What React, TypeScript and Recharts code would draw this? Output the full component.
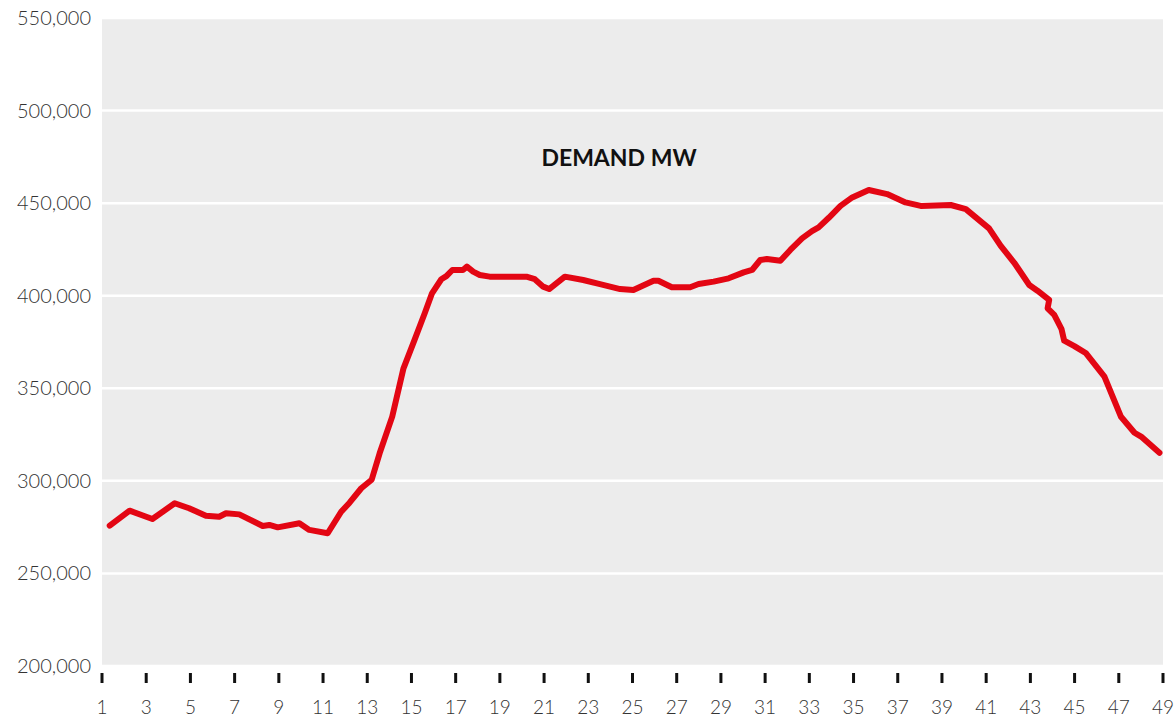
import { LineChart, Line, XAxis, YAxis, CartesianGrid } from 'recharts';

// settlement period (x) and demand in MW
const periods = [
    1.35, 2.25, 3.28, 4.29, 4.94, 5.7, 6.3, 6.61, 7.21, 8.27, 8.57, 8.95, 9.93, 10.38, 11.21,
    11.82, 12.2, 12.73, 13.2, 13.56, 14.13, 14.64, 15.14, 15.6, 15.93, 16.35, 16.58, 16.85,
    17.33, 17.51, 17.79, 18.09, 18.54, 20.2, 20.58, 20.96, 21.23, 21.94, 22.77, 23.53, 24.44,
    25.04, 25.95, 26.17, 26.78, 27.61, 27.99, 28.67, 29.35, 30.03, 30.41, 30.78, 31.08, 31.69,
    32.14, 32.67, 33.12, 33.42, 33.88, 34.41, 34.94, 35.69, 36.52, 37.35, 38.04, 39.4, 40.08,
    41.13, 41.66, 42.27, 42.95, 43.32, 43.85, 43.78, 44.08, 44.41, 44.53, 44.99, 45.52, 46.35,
    47.1, 47.71, 48.01, 48.84,
];
const demandMW = [
    275800, 283900, 279400, 287900, 285200, 281200, 280600, 282500, 281900, 275600, 276200,
    274900, 277100, 273500, 271700, 283300, 288200, 296000, 300600, 314900, 334700, 360800,
    376100, 390500, 401300, 408900, 410600, 413900, 413900, 415700, 413000, 411200, 410300,
    410300, 408900, 404900, 403600, 410300, 408500, 406300, 403600, 403100, 408100, 408100,
    404600, 404600, 406300, 407600, 409400, 412600, 413900, 419300, 419800, 418900, 424700,
    431000, 434900, 436900, 442100, 448500, 453100, 457100, 454900, 450400, 448500, 449000,
    446800, 436400, 426900, 417800, 405800, 402700, 397700, 393200, 389600, 381900, 375700,
    372800, 368900, 356300, 334600, 326000, 323900, 315200,
];
const xTicks = [1, 3, 5, 7, 9, 11, 13, 15, 17, 19, 21, 23, 25, 27, 29, 31, 33, 35, 37, 39, 41, 43, 45, 47, 49];
const yTicks = [200000, 250000, 300000, 350000, 400000, 450000, 500000, 550000];

const data = periods.map((p, i) => ({ period: p, demand: demandMW[i] }));

const labelFont = 'Lato, "Open Sans", sans-serif';

const XTick = ({ x, y, payload }: any) => (
    <g>
        <line x1={x} x2={x} y1={y + 7} y2={y + 17} stroke="#111" strokeWidth={3} />
        <text x={x} y={y + 48} textAnchor="middle" fill="#333" fontSize={19} fontWeight={300} fontFamily={labelFont}>
            {payload.value}
        </text>
    </g>
);

const YTick = ({ y, payload }: any) => (
    <text x={91} y={y + 7} textAnchor="end" fill="#333" fontSize={20} fontWeight={300} fontFamily={labelFont}>
        {payload.value.toLocaleString('en-US')}
    </text>
);

export default function App() {
    return (
        <div style={{ position: 'absolute', left: 0, top: 0, width: 1176, height: 720, background: '#fff' }}>
            <LineChart width={1176} height={720} data={data} margin={{ top: 18, right: 13, bottom: 0, left: 0 }}>
                <CartesianGrid vertical={false} fill="#ececec" stroke="#fff" strokeWidth={2.5} />
                <XAxis
                    dataKey="period"
                    type="number"
                    domain={[1, 49]}
                    ticks={xTicks}
                    interval={0}
                    height={54}
                    axisLine={false}
                    tickLine={false}
                    tickSize={0}
                    tickMargin={0}
                    tick={<XTick />}
                />
                <YAxis
                    type="number"
                    domain={[200000, 550000]}
                    ticks={yTicks}
                    interval={0}
                    width={102}
                    axisLine={false}
                    tickLine={false}
                    tick={<YTick />}
                />
                <Line
                    type="linear"
                    dataKey="demand"
                    stroke="#e30613"
                    strokeWidth={6}
                    strokeLinejoin="round"
                    strokeLinecap="round"
                    dot={false}
                    activeDot={false}
                    isAnimationActive={false}
                />
            </LineChart>
            <div
                style={{
                    position: 'absolute',
                    left: 519,
                    width: 200,
                    top: 143,
                    textAlign: 'center',
                    fontFamily: labelFont,
                    fontWeight: 700,
                    fontSize: 23,
                    color: '#111',
                }}
            >
                DEMAND MW
            </div>
        </div>
    );
}
